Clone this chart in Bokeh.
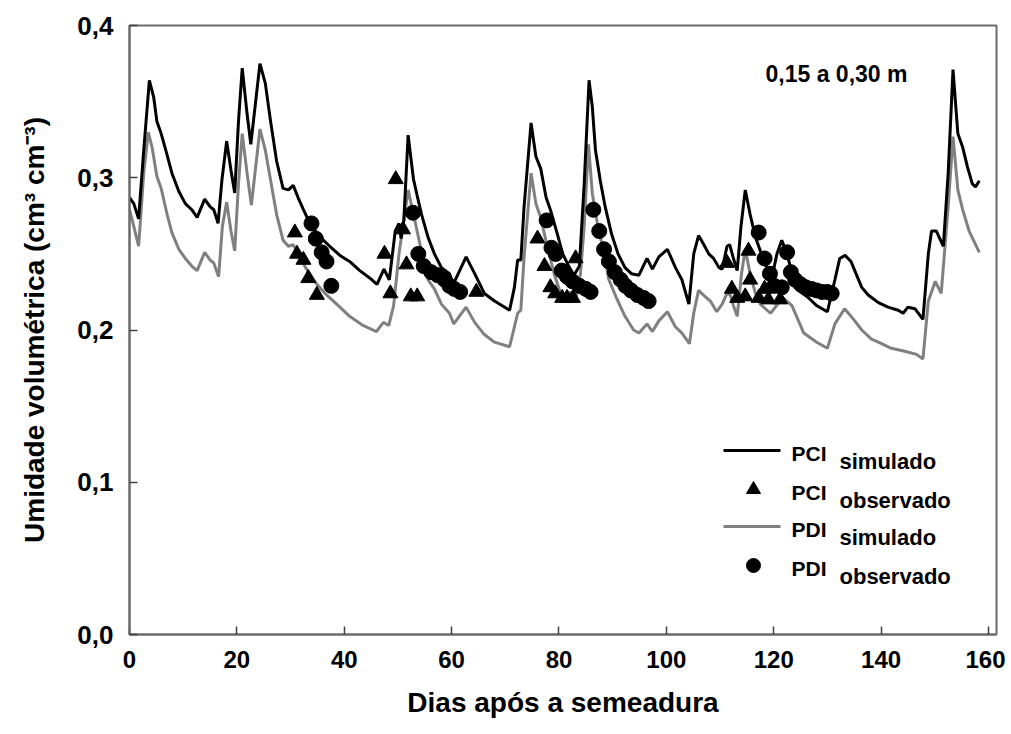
from bokeh.plotting import figure
from bokeh.models import Range1d, FixedTicker, Label, CustomJSTickFormatter
from bokeh.embed import file_html
from bokeh.resources import INLINE

# ---------------- data ----------------
pci_sim_day = [0.0, 0.8, 1.7, 2.65, 3.7, 4.5, 5.1, 5.9, 7.0, 7.9, 9.2, 10.4, 11.6, 12.6, 14.0, 15.0,
               15.7, 16.5, 17.2, 18.1, 18.9, 19.6, 20.3, 21.0, 21.9, 22.6, 24.3, 25.3, 26.2, 27.4,
               28.6, 29.6, 30.5, 31.4, 32.4, 33.6, 35.5, 37.3, 39.2, 41.0, 42.9, 44.8, 46.1, 47.4,
               48.4, 49.5, 50.2, 50.6, 51.1, 51.9, 52.9, 53.6, 54.4, 55.6, 56.8, 58.1, 59.6, 60.3,
               62.7, 64.3, 66.1, 68.0, 70.8, 71.7, 72.3, 72.9, 73.5, 74.8, 75.7, 76.6, 77.6, 78.4,
               79.7, 80.7, 81.8, 82.8, 83.8, 84.7, 85.6, 86.2, 86.8, 87.7, 88.6, 89.8, 91.0, 92.3,
               93.5, 94.9, 96.4, 97.4, 98.6, 100.2, 101.7, 102.9, 104.2, 105.1, 106.0, 107.0, 107.9,
               108.8, 109.8, 110.4, 111.3, 111.8, 112.5, 113.2, 113.9, 114.7, 115.6, 116.6, 117.5,
               118.7, 119.7, 120.6, 121.5, 122.5, 123.4, 124.6, 126.2, 128.0, 130.0, 131.4, 132.3,
               133.3, 134.4, 135.1, 136.4, 137.6, 139.5, 141.3, 143.2, 144.1, 145.0, 146.3, 147.8,
               148.8, 149.4, 150.3, 151.6, 152.5, 153.4, 154.3, 155.2, 156.1, 157.0, 157.6, 158.3]
pci_sim_val = [0.287, 0.283, 0.273, 0.318, 0.364, 0.353, 0.337, 0.329, 0.315, 0.303, 0.291, 0.283, 0.279, 0.274, 0.286, 0.281,
               0.279, 0.270, 0.298, 0.324, 0.305, 0.290, 0.337, 0.372, 0.342, 0.322, 0.375, 0.362, 0.339, 0.311,
               0.293, 0.292, 0.295, 0.287, 0.279, 0.270, 0.261, 0.255, 0.249, 0.245, 0.239, 0.234, 0.230, 0.240,
               0.233, 0.265, 0.270, 0.260, 0.272, 0.328, 0.299, 0.288, 0.276, 0.261, 0.250, 0.241, 0.237, 0.230,
               0.248, 0.237, 0.224, 0.219, 0.213, 0.228, 0.246, 0.246, 0.281, 0.336, 0.314, 0.306, 0.287, 0.279,
               0.263, 0.250, 0.242, 0.236, 0.242, 0.296, 0.364, 0.347, 0.318, 0.298, 0.281, 0.263, 0.250, 0.241,
               0.237, 0.236, 0.247, 0.240, 0.248, 0.253, 0.241, 0.233, 0.217, 0.250, 0.262, 0.256, 0.250,
               0.247, 0.241, 0.240, 0.255, 0.256, 0.247, 0.239, 0.268, 0.292, 0.276, 0.261, 0.252,
               0.241, 0.235, 0.250, 0.259, 0.250, 0.237, 0.226, 0.222, 0.216, 0.212, 0.233, 0.247,
               0.249, 0.245, 0.239, 0.228, 0.223, 0.218, 0.215, 0.213, 0.211, 0.215, 0.214, 0.207,
               0.250, 0.265, 0.265, 0.255, 0.303, 0.371, 0.329, 0.320, 0.307, 0.296, 0.294, 0.298]

pdi_sim_day = [0.0, 0.8, 1.7, 2.65, 3.5, 4.2, 5.1, 5.9, 7.0, 7.9, 9.2, 10.4, 11.6, 12.6, 14.0, 15.0,
               15.7, 16.6, 17.3, 18.1, 18.9, 19.6, 20.3, 21.0, 21.9, 22.7, 24.3, 25.3, 26.2, 27.4,
               28.6, 29.6, 30.5, 31.6, 32.8, 34.9, 36.7, 38.6, 41.0, 43.5, 46.0, 47.3, 48.3, 49.2,
               50.2, 51.9, 52.9, 54.3, 55.6, 56.8, 58.1, 59.6, 60.4, 62.7, 64.3, 66.1, 68.0, 70.8,
               71.7, 72.3, 72.9, 73.5, 74.8, 75.7, 76.6, 77.8, 79.1, 80.3, 81.3, 82.0, 83.1, 84.0,
               84.7, 85.5, 86.2, 87.2, 88.4, 89.3, 90.6, 92.3, 93.9, 94.9, 96.4, 97.4, 98.6, 100.2,
               101.7, 102.9, 104.3, 105.1, 106.0, 107.2, 108.2, 109.4, 110.4, 111.3, 111.9, 112.5,
               113.2, 114.0, 114.7, 115.6, 116.6, 117.5, 119.4, 121.2, 121.8, 123.4, 125.6, 128.0,
               130.0, 131.4, 133.2, 134.4, 135.1, 136.4, 138.2, 140.1, 141.9, 144.4, 146.6, 147.8,
               148.8, 150.1, 151.2, 152.5, 153.4, 154.3, 155.2, 156.4, 158.3]
pdi_sim_val = [0.279, 0.268, 0.255, 0.303, 0.330, 0.320, 0.301, 0.293, 0.276, 0.264, 0.253, 0.247, 0.242, 0.239, 0.251, 0.246,
               0.244, 0.235, 0.268, 0.284, 0.265, 0.252, 0.296, 0.329, 0.303, 0.282, 0.332, 0.318, 0.300, 0.276,
               0.259, 0.255, 0.256, 0.249, 0.241, 0.230, 0.223, 0.217, 0.209, 0.203, 0.199, 0.205, 0.203, 0.216,
               0.250, 0.292, 0.276, 0.253, 0.233, 0.227, 0.217, 0.211, 0.204, 0.215, 0.205, 0.197, 0.192, 0.189,
               0.202, 0.211, 0.213, 0.248, 0.303, 0.283, 0.274, 0.255, 0.237, 0.224, 0.219, 0.225, 0.219, 0.237,
               0.268, 0.322, 0.290, 0.269, 0.250, 0.233, 0.222, 0.209, 0.200, 0.198, 0.204, 0.199, 0.206, 0.212,
               0.202, 0.198, 0.191, 0.211, 0.226, 0.222, 0.219, 0.212, 0.217, 0.224, 0.223, 0.216,
               0.209, 0.237, 0.253, 0.237, 0.224, 0.217, 0.211, 0.219, 0.221, 0.216, 0.198, 0.192,
               0.188, 0.204, 0.214, 0.209, 0.206, 0.200, 0.194, 0.191, 0.188, 0.186, 0.184, 0.181,
               0.219, 0.232, 0.224, 0.281, 0.327, 0.292, 0.279, 0.265, 0.251]

pci_obs_day = [30.8, 31.2, 32.4, 33.3, 34.9, 47.5, 48.6, 49.6, 50.95, 51.6, 52.4, 53.6, 64.6,
               76.0, 77.3, 78.4, 79.3, 80.6, 81.5, 82.6, 83.1, 111.3, 112.2, 113.2, 114.7, 115.3,
               115.6, 117.2, 118.3, 119.0, 121.2]
pci_obs_val = [0.264, 0.250, 0.246, 0.234, 0.223, 0.250, 0.224, 0.299, 0.266, 0.243, 0.222, 0.222, 0.225,
               0.260, 0.242, 0.228, 0.224, 0.221, 0.221, 0.221, 0.247, 0.244, 0.227, 0.221, 0.222, 0.252,
               0.233, 0.221, 0.227, 0.220, 0.220]

pdi_obs_day = [33.9, 34.7, 35.8, 36.7, 37.6, 52.8, 53.8, 54.8, 56.2, 57.4, 58.7, 59.6, 60.5, 61.6,
               77.7, 78.6, 79.4, 80.5, 81.5, 82.5, 83.8, 85.0, 85.9, 86.4, 87.5, 88.4, 89.3, 90.4,
               91.5, 92.4, 93.4, 94.6, 95.8, 96.7, 117.2, 118.3, 119.3, 120.1, 121.5, 122.5, 123.2,
               124.0, 125.0, 126.0, 127.0, 128.0, 129.0, 130.0, 130.8]
pdi_obs_val = [0.270, 0.260, 0.251, 0.245, 0.229, 0.277, 0.250, 0.242, 0.238, 0.236, 0.233, 0.229, 0.227, 0.225,
               0.272, 0.254, 0.250, 0.239, 0.235, 0.232, 0.229, 0.227, 0.225, 0.279, 0.265, 0.253, 0.245, 0.238,
               0.233, 0.229, 0.226, 0.223, 0.221, 0.219, 0.264, 0.247, 0.237, 0.229, 0.228, 0.251, 0.238,
               0.233, 0.230, 0.228, 0.227, 0.226, 0.225, 0.225, 0.224]

x_ticks = [0, 20, 40, 60, 80, 100, 120, 140, 160]
y_ticks = [0.0, 0.1, 0.2, 0.3, 0.4]
x_title = "Dias após a semeadura"
y_title = "Umidade volumétrica (cm³ cm⁻³)"
depth_text = "0,15 a 0,30 m"
legend_main = ["PCI", "PCI", "PDI", "PDI"]
legend_sub = ["simulado", "observado", "simulado", "observado"]

# ---------------- figure ----------------
FONT = "Liberation Sans"
X_END = 161.5
W, H = 1005, 730
BL, BR, BT, BB = 129, 9, 25, 96

p = figure(width=W, height=H, output_backend="svg", toolbar_location=None,
           x_range=Range1d(0, X_END), y_range=Range1d(0, 0.4),
           min_border_left=BL, min_border_right=BR, min_border_top=BT, min_border_bottom=BB)
p.grid.visible = False
p.background_fill_color = "white"
p.border_fill_color = "white"
p.outline_line_color = "#6a6a6a"
p.outline_line_width = 2

for ax in (p.xaxis[0], p.yaxis[0]):
    ax.axis_line_color = "#6a6a6a"
    ax.axis_line_width = 2
    ax.major_tick_line_color = "#404040"
    ax.major_tick_line_width = 1.5
    ax.major_tick_in = 8
    ax.major_tick_out = 0
    ax.minor_tick_line_color = None
    ax.major_label_text_font = FONT
    ax.major_label_text_font_style = "bold"
    ax.major_label_text_color = "black"
    ax.axis_label_text_font = FONT
    ax.axis_label_text_font_style = "bold"
    ax.axis_label_text_font_size = "28px"
    ax.axis_label_text_color = "black"

p.xaxis.major_label_text_font_size = "24px"
p.yaxis.major_label_text_font_size = "26px"
p.xaxis.ticker = FixedTicker(ticks=x_ticks)
p.yaxis.ticker = FixedTicker(ticks=y_ticks)
p.yaxis.formatter = CustomJSTickFormatter(code="return tick.toFixed(1).replace('.', ',');")
p.xaxis.axis_label = x_title
p.yaxis.axis_label = y_title
p.xaxis.major_label_standoff = 16
p.yaxis.major_label_standoff = 16
p.xaxis.axis_label_standoff = 16
p.yaxis.axis_label_standoff = 24

# series
p.line(pdi_sim_day, pdi_sim_val, line_color="#808080", line_width=3)
p.line(pci_sim_day, pci_sim_val, line_color="black", line_width=3)
p.scatter(pci_obs_day, pci_obs_val, marker="triangle", size=15, fill_color="black", line_color="black")
p.scatter(pdi_obs_day, pdi_obs_val, marker="circle", size=15, fill_color="black", line_color="black")

# helpers: page pixel -> data (frame spans page x 129..996, y 25..634)
FX0, FX1, FY0, FY1 = BL, W - BR, BT, H - BB
def dx(px):
    return (px - FX0) / (FX1 - FX0) * X_END
def dy(py):
    return (FY1 - py) / (FY1 - FY0) * 0.4

# depth label
p.add_layout(Label(x=dx(765), y=dy(73), text=depth_text, text_font=FONT, text_font_style="bold",
                   text_font_size="23px", text_color="black", text_baseline="alphabetic"))

# manual legend
rows_y = [450, 489, 526, 565]
styles = [("line", "black"), ("triangle", "black"), ("line", "#808080"), ("circle", "black")]
for (kind, col), ry, mtxt, stxt in zip(styles, rows_y, legend_main, legend_sub):
    if kind == "line":
        p.line([dx(723), dx(780)], [dy(ry), dy(ry)], line_color=col, line_width=3)
    else:
        p.scatter([dx(753)], [dy(ry)], marker=kind, size=14, fill_color=col, line_color=col)
    p.add_layout(Label(x=dx(791), y=dy(ry + 3), text=mtxt, text_font=FONT, text_font_style="bold",
                       text_font_size="21px", text_color="black", text_baseline="alphabetic"))
    p.add_layout(Label(x=dx(839), y=dy(ry + 11), text=stxt, text_font=FONT, text_font_style="bold",
                       text_font_size="22px", text_color="black", text_baseline="alphabetic"))

open("out.html", "w").write(file_html(p, INLINE))
